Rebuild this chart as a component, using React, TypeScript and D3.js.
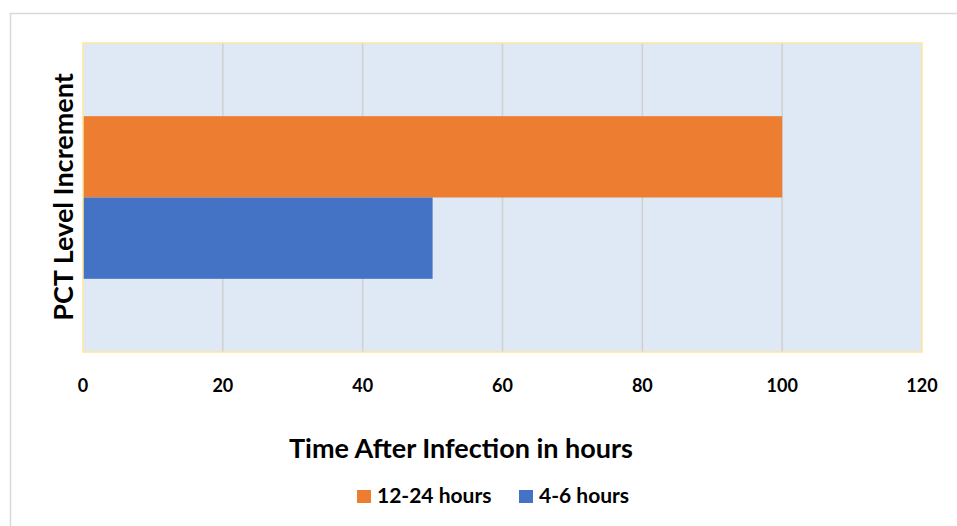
import React, { useEffect, useRef } from "react";
import * as d3 from "d3";

const seriesNames = ["12-24 hours", "4-6 hours"];
const seriesValues = [100, 50];
const seriesColors = ["#ed7d31", "#4472c4"];
const xTicks = [0, 20, 40, 60, 80, 100, 120];

const width = 957;
const height = 526;
const font = "Lato, 'Open Sans', sans-serif";

function drawChart(node: SVGSVGElement) {
  const svg = d3.select(node);
  svg.selectAll("*").remove();

  // outer chart border
  svg.append("rect")
    .attr("x", 10.5).attr("y", 13.5)
    .attr("width", 950).attr("height", 520)
    .attr("fill", "#fff")
    .attr("stroke", "#d9d9d9")
    .attr("stroke-width", 1.5);

  const plot = { left: 83, top: 43, right: 922, bottom: 352 };

  const x = d3.scaleLinear().domain([0, 120]).range([plot.left, plot.right]);
  const y = d3.scaleBand<string>()
    .domain(seriesNames)
    .range([plot.top, plot.bottom])
    .paddingInner(0)
    .paddingOuter(0.9);

  svg.append("rect")
    .attr("x", plot.left).attr("y", plot.top)
    .attr("width", plot.right - plot.left).attr("height", plot.bottom - plot.top)
    .attr("fill", "#dee9f5");

  // vertical gridlines
  svg.append("g")
    .selectAll("line")
    .data(xTicks.slice(1, -1))
    .join("line")
    .attr("x1", d => x(d)).attr("x2", d => x(d))
    .attr("y1", plot.top).attr("y2", plot.bottom)
    .attr("stroke", "#d0d0d0")
    .attr("stroke-width", 1.5);

  // bars
  svg.append("g")
    .selectAll("rect")
    .data(seriesNames)
    .join("rect")
    .attr("x", x(0))
    .attr("y", d => y(d)!)
    .attr("width", (d, i) => x(seriesValues[i]) - x(0))
    .attr("height", y.bandwidth())
    .attr("fill", (d, i) => seriesColors[i]);

  // plot border
  svg.append("rect")
    .attr("x", plot.left).attr("y", plot.top)
    .attr("width", plot.right - plot.left).attr("height", plot.bottom - plot.top)
    .attr("fill", "none")
    .attr("stroke", "#ffe699")
    .attr("stroke-width", 1.5);

  // x tick labels
  svg.append("g")
    .selectAll("text")
    .data(xTicks)
    .join("text")
    .attr("x", d => x(d))
    .attr("y", 392)
    .attr("text-anchor", "middle")
    .attr("font-family", font)
    .attr("font-weight", "bold")
    .attr("font-size", 18)
    .attr("fill", "#000")
    .text(d => d);

  // x axis title
  svg.append("text")
    .attr("x", 461).attr("y", 458)
    .attr("text-anchor", "middle")
    .attr("font-family", font)
    .attr("font-weight", "bold")
    .attr("font-size", 27)
    .text("Time After Infection in hours");

  // y axis title
  svg.append("text")
    .attr("transform", "translate(73,197) rotate(-90)")
    .attr("text-anchor", "middle")
    .attr("font-family", font)
    .attr("font-weight", "bold")
    .attr("font-size", 27)
    .text("PCT Level Increment");

  // legend
  const legendX = [357, 519];
  const legend = svg.append("g")
    .selectAll("g")
    .data(seriesNames)
    .join("g")
    .attr("transform", (d, i) => `translate(${legendX[i]},490)`);
  legend.append("rect")
    .attr("width", 14).attr("height", 13)
    .attr("fill", (d, i) => seriesColors[i]);
  legend.append("text")
    .attr("x", 20).attr("y", 13)
    .attr("font-family", font)
    .attr("font-weight", "bold")
    .attr("font-size", 21)
    .text(d => d);
}

export default function App() {
  const svgRef = useRef<SVGSVGElement>(null);
  useEffect(() => {
    if (svgRef.current) drawChart(svgRef.current);
  }, []);
  return (
    <svg
      ref={svgRef}
      width={width}
      height={height}
      style={{ position: "absolute", left: 0, top: 0 }}
    />
  );
}
